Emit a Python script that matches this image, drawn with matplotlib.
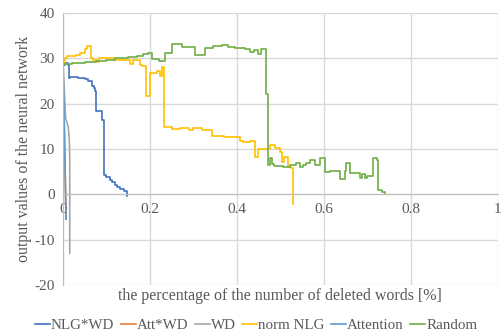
import numpy as np
import matplotlib.pyplot as plt

# ---- data ----
nlg_wd_x = [0, 0.004, 0.011, 0.013, 0.017, 0.035, 0.05, 0.057, 0.066, 0.071, 0.074, 0.077,
            0.09, 0.095, 0.1, 0.107, 0.113, 0.12, 0.125, 0.132, 0.14, 0.148]
nlg_wd_y = [28.5, 29.0, 28.6, 25.6, 26.0, 25.7, 25.4, 25.0, 24.0, 23.4, 22.8, 18.3,
            16.4, 4.2, 3.8, 3.2, 2.7, 2.1, 1.6, 1.1, 0.7, -0.3]

att_wd_x = [0, 0.003, 0.007]
att_wd_y = [28.8, 15.0, -5.5]

wd_x = [0, 0.006, 0.012, 0.0145, 0.0155, 0.0155]
wd_y = [29.0, 16.8, 14.9, 12.0, 8.0, -13.0]

norm_x = [0, 0.004, 0.01, 0.03, 0.039, 0.05, 0.055, 0.065, 0.07, 0.078, 0.082, 0.12, 0.154,
          0.16, 0.177, 0.182, 0.191, 0.199, 0.216, 0.223, 0.228, 0.233, 0.25, 0.27, 0.29,
          0.3, 0.32, 0.343, 0.37, 0.40, 0.407, 0.415, 0.43, 0.441, 0.448, 0.476, 0.487,
          0.499, 0.503, 0.508, 0.517, 0.524, 0.528]
norm_y = [29.0, 30.0, 30.5, 30.8, 31.2, 32.0, 32.7, 30.0, 29.6, 29.3, 30.0, 29.7, 28.8,
          29.7, 28.6, 28.3, 21.7, 26.8, 27.2, 26.2, 28.0, 14.8, 14.4, 14.6, 14.3,
          14.6, 14.3, 12.9, 12.6, 12.7, 11.7, 11.5, 11.8, 8.3, 10.0, 10.9, 10.2,
          9.3, 7.2, 8.2, 6.0, 5.8, -2.2]

attn_x = [0, 0.003, 0.007]
attn_y = [28.8, 15.0, -5.5]

rand_x = [0, 0.02, 0.05, 0.075, 0.1, 0.12, 0.15, 0.17, 0.185, 0.195, 0.205, 0.22, 0.234,
          0.25, 0.274, 0.303, 0.326, 0.345, 0.365, 0.38, 0.395, 0.418, 0.43, 0.44, 0.448,
          0.455, 0.467, 0.471, 0.476, 0.48, 0.486, 0.506, 0.522, 0.535, 0.545, 0.552,
          0.56, 0.568, 0.58, 0.591, 0.602, 0.615, 0.637, 0.648, 0.652, 0.66, 0.683,
          0.688, 0.694, 0.70, 0.713, 0.722, 0.724, 0.733, 0.74]
rand_y = [28.7, 29.0, 29.2, 29.5, 29.7, 30.0, 30.3, 30.6, 31.0, 31.3, 29.8, 29.4, 31.2,
          33.2, 32.6, 30.8, 32.4, 32.7, 33.0, 32.6, 32.4, 32.0, 31.5, 31.9, 31.0,
          32.0, 22.2, 6.4, 8.0, 6.8, 6.3, 6.0, 6.4, 7.0, 6.0, 6.5,
          7.0, 7.5, 6.5, 8.0, 4.9, 5.1, 3.4, 5.2, 7.0, 4.7, 3.6,
          4.5, 3.7, 4.0, 8.0, 7.5, 0.9, 0.5, 0.0]

x_ticks = [0, 0.2, 0.4, 0.6, 0.8, 1]
x_labels = ["0", "0.2", "0.4", "0.6", "0.8", "1"]
y_ticks = [-20, -10, 0, 10, 20, 30, 40]

plt.rcParams['font.family'] = ['Liberation Serif', 'DejaVu Serif']
plt.rcParams['axes.unicode_minus'] = False

fig = plt.figure(figsize=(5.02, 3.36), dpi=100)
ax = fig.add_axes([0.1255, 0.152, 0.866, 0.809])

lw = 1.2
ax.plot(nlg_wd_x, nlg_wd_y, drawstyle='steps-post', color='#4472C4', lw=lw, label='NLG*WD')
ax.plot(att_wd_x, att_wd_y, color='#ED7D31', lw=lw, label='Att*WD')
ax.plot(wd_x, wd_y, color='#A5A5A5', lw=lw, label='WD')
ax.plot(norm_x, norm_y, drawstyle='steps-post', color='#FFC000', lw=lw, label='norm NLG')
ax.plot(attn_x, attn_y, color='#5B9BD5', lw=lw, label='Attention')
ax.plot(rand_x, rand_y, drawstyle='steps-post', color='#70AD47', lw=lw, label='Random')

ax.set_xlim(0, 1)
ax.set_ylim(-20, 40)
ax.set_xticks(x_ticks)
ax.set_xticklabels(x_labels)
ax.set_yticks(y_ticks)
ax.grid(True, color='#D9D9D9', lw=1.0)
ax.set_axisbelow(True)

for s in ['top', 'right']:
    ax.spines[s].set_visible(False)
ax.spines['left'].set_color('#BFBFBF')
ax.spines['bottom'].set_position(('data', 0))
ax.spines['bottom'].set_color('#BFBFBF')
ax.tick_params(length=0, colors='#595959', labelsize=11)
ax.tick_params(axis='y', pad=6)
ax.tick_params(axis='x', pad=6)

ax.set_ylabel("output values of the neural network", fontsize=11.5, color='#595959', labelpad=2)
fig.text(0.558, 0.118, "the percentage of the number of deleted words [%]",
         ha='center', va='center', fontsize=11.5, color='#595959')

fig.legend(loc='center', bbox_to_anchor=(0.51, 0.032), ncol=6, frameon=False,
           fontsize=10.8, handlelength=1.0, handletextpad=0.05, columnspacing=0.45,
           labelcolor='#595959')

fig.savefig('out.png', dpi=100)
